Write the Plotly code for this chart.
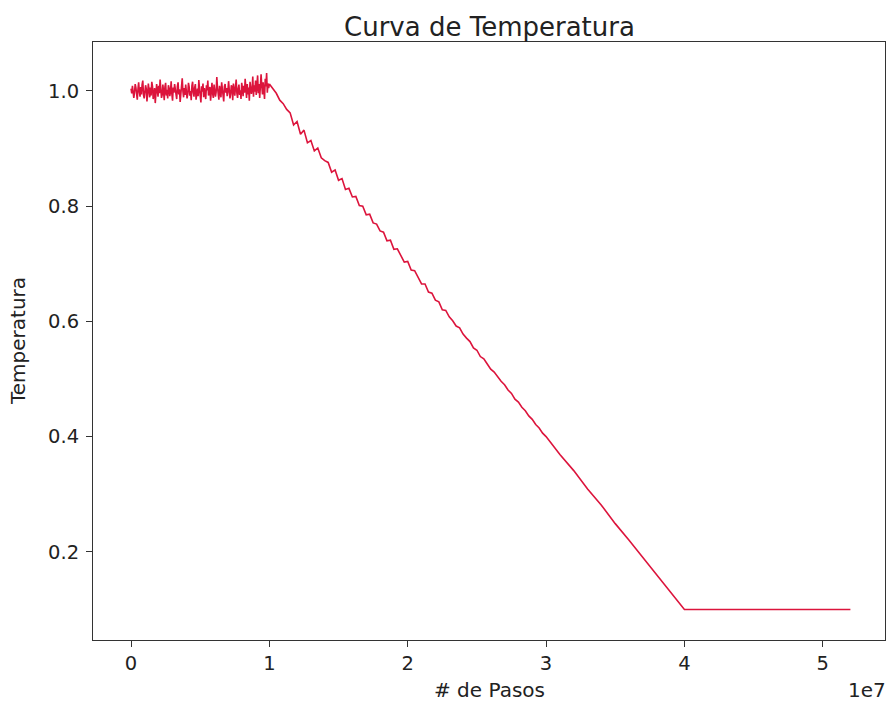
import numpy as np
import plotly.graph_objects as go

# Temperature samples of the annealing run.
# Stage 1: constant temperature (noisy) from step 0 up to 1e7
plateau_temp = [
    1.004, 0.996, 1.009, 1.001, 0.988, 0.997, 1.012, 1.006, 0.991, 0.985, 1.003, 1.015, 0.999, 0.990, 1.007, 0.994, 1.011, 1.018, 0.993, 0.987,
    0.998, 1.010, 1.004, 0.982, 0.995, 1.013, 1.002, 0.989, 1.006, 0.992, 1.016, 1.008, 0.986, 0.997, 1.005, 0.979, 0.994, 1.012, 1.001, 0.990,
    1.009, 0.996, 1.020, 1.003, 0.988, 0.993, 1.011, 0.999, 0.984, 1.007, 1.014, 0.992, 1.002, 0.987, 1.010, 1.005, 0.991, 0.998, 1.017, 0.995,
    0.983, 1.006, 0.997, 1.012, 1.001, 0.990, 0.986, 1.008, 1.015, 0.994, 1.003, 0.981, 0.996, 1.010, 1.022, 0.999, 0.989, 1.005, 0.993, 1.011,
    1.002, 0.987, 0.995, 1.014, 1.007, 0.992, 1.000, 0.984, 1.009, 1.016, 0.997, 0.990, 1.006, 1.012, 0.985, 0.998, 1.004, 0.991, 1.019, 1.003,
    0.994, 0.980, 1.008, 0.999, 1.013, 0.989, 1.005, 0.996, 0.986, 1.010, 1.001, 1.018, 0.992, 0.997, 1.007, 0.983, 1.002, 1.014, 0.995, 0.988,
    1.011, 1.004, 0.990, 0.998, 1.024, 1.006, 0.993, 0.985, 1.009, 1.000, 0.989, 1.015, 1.003, 0.994, 0.982, 1.008, 1.012, 0.997, 1.005, 0.991,
    0.999, 1.017, 1.002, 0.987, 0.995, 1.010, 1.006, 0.984, 1.013, 0.998, 0.992, 1.007, 1.020, 0.996, 0.988, 1.004, 1.011, 0.993, 1.001, 0.986,
    1.014, 1.005, 0.991, 1.009, 0.997, 1.021, 1.002, 0.988, 1.012, 0.994, 1.006, 0.983, 1.016, 1.008, 0.995, 1.003, 1.025, 0.990, 1.010, 0.999,
    1.018, 0.993, 1.007, 1.027, 0.996, 1.012, 0.988, 1.004, 1.029, 1.009, 0.994, 1.015, 1.002, 0.986, 1.021, 1.008, 1.031, 0.997, 1.013, 1.005,
]

# Stage 2: cooling from 1e7 to 3e7 (samples every 2.5e5 steps)
cooling_temp = [
    1.012, 1.003, 0.996, 0.984, 0.978, 0.968, 0.962, 0.941, 0.947, 0.925,
    0.932, 0.910, 0.914, 0.896, 0.901, 0.884, 0.879, 0.876, 0.859, 0.863,
    0.845, 0.848, 0.829, 0.831, 0.816, 0.817, 0.801, 0.800, 0.785, 0.786,
    0.771, 0.769, 0.757, 0.755, 0.740, 0.741, 0.725, 0.726, 0.713, 0.703,
    0.704, 0.689, 0.688, 0.676, 0.665, 0.665, 0.651, 0.649, 0.637, 0.634,
    0.620, 0.619, 0.608, 0.601, 0.592, 0.589, 0.578, 0.571, 0.565, 0.554,
    0.550, 0.539, 0.535, 0.526, 0.517, 0.512, 0.503, 0.496, 0.490, 0.481,
    0.475, 0.465, 0.460, 0.451, 0.445, 0.436, 0.430, 0.421, 0.415, 0.406,
    0.400,
]

# Stage 3: end of cooling and final constant temperature
tail_steps = [3.1e7, 3.2e7, 3.3e7, 3.4e7, 3.5e7, 3.6e7, 3.7e7, 3.8e7, 3.9e7, 4.0e7, 5.2e7]
tail_temp = [0.369, 0.341, 0.309, 0.281, 0.249, 0.220, 0.190, 0.160, 0.130, 0.100, 0.100]

x_ticks = [0, 1e7, 2e7, 3e7, 4e7, 5e7]
x_tick_labels = ["0", "1", "2", "3", "4", "5"]
y_ticks = [0.2, 0.4, 0.6, 0.8, 1.0]
y_tick_labels = ["0.2", "0.4", "0.6", "0.8", "1.0"]

plateau_steps = np.linspace(0, 1e7, len(plateau_temp), endpoint=False)
cooling_steps = np.linspace(1e7, 3e7, len(cooling_temp))

steps = np.concatenate([plateau_steps, cooling_steps, tail_steps])
temps = np.concatenate([plateau_temp, cooling_temp, tail_temp])

FONT = "DejaVu Sans"
INK = "#222222"

fig = go.Figure(
    go.Scatter(
        x=steps, y=temps, mode="lines",
        line=dict(color="#DC143C", width=1.6),
        hoverinfo="skip",
    )
)

axis_common = dict(
    showgrid=False, zeroline=False,
    showline=True, mirror=True, linecolor="#333333", linewidth=1,
    ticks="outside", ticklen=6, tickwidth=1, tickcolor="#333333",
    tickfont=dict(family=FONT, size=19.5, color=INK),
)

fig.update_layout(
    width=889, height=704,
    margin=dict(l=93, r=4, t=42, b=64),
    paper_bgcolor="white", plot_bgcolor="white",
    showlegend=False,
    xaxis=dict(range=[-0.275e7, 5.45e7], tickvals=x_ticks, ticktext=x_tick_labels, **axis_common),
    yaxis=dict(range=[0.047, 1.085], tickvals=y_ticks, ticktext=y_tick_labels,
               ticklabelstandoff=3, **axis_common),
    annotations=[
        dict(text="Curva de Temperatura", xref="paper", yref="paper", x=0.5, y=1,
             xanchor="center", yanchor="middle", yshift=15, showarrow=False,
             font=dict(family=FONT, size=26, color=INK)),
        dict(text="# de Pasos", xref="paper", yref="paper", x=0.5, y=0,
             xanchor="center", yanchor="middle", yshift=-50, showarrow=False,
             font=dict(family=FONT, size=20, color=INK)),
        dict(text="1e7", xref="paper", yref="paper", x=1, y=0,
             xanchor="right", yanchor="middle", yshift=-50, xshift=3, showarrow=False,
             font=dict(family=FONT, size=20, color=INK)),
        dict(text="Temperatura", xref="paper", yref="paper", x=0, y=0.5,
             xanchor="center", yanchor="middle", xshift=-75, textangle=-90,
             showarrow=False, font=dict(family=FONT, size=20, color=INK)),
    ],
)

fig.write_html("out.html")
